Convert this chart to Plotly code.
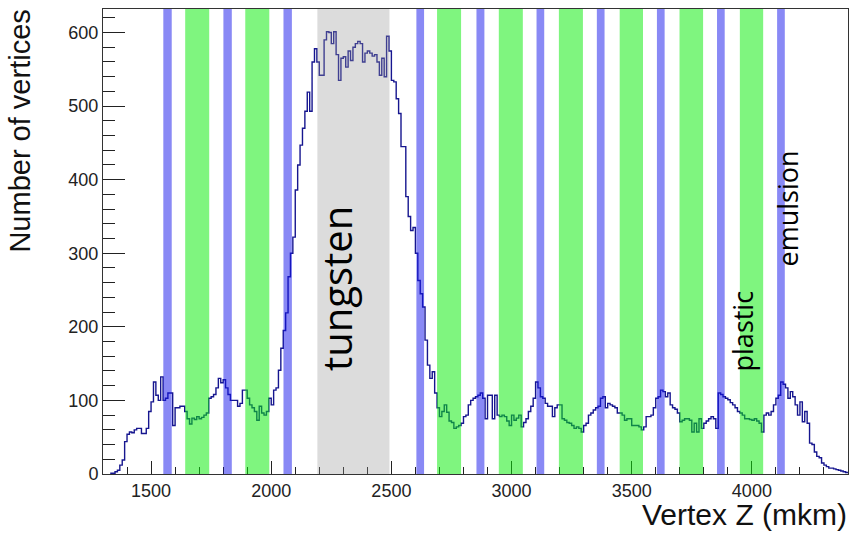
import numpy as np
import plotly.graph_objects as go

# ---------------- data ----------------
bin_start = 1330
bin_width = 10
counts = [
    1, 1, 3, 5, 12, 19, 44, 54, 57, 56,
    60, 62, 62, 55, 55, 62, 85, 98, 125, 107,
    100, 132, 100, 103, 110, 110, 66, 90, 90, 92,
    92, 85, 75, 68, 76, 74, 78, 75, 77, 80,
    83, 103, 105, 108, 117, 130, 124, 128, 117, 108,
    100, 100, 100, 92, 96, 114, 114, 103, 94, 90,
    85, 73, 92, 83, 80, 85, 103, 94, 114, 117,
    141, 171, 195, 219, 268, 300, 322, 386, 420, 447,
    470, 493, 519, 493, 560, 578, 560, 542, 542, 590,
    601, 600, 585, 601, 570, 535, 565, 567, 553, 575,
    562, 580, 585, 588, 585, 560, 572, 575, 572, 568,
    570, 560, 542, 565, 540, 595, 575, 535, 533, 510,
    490, 445, 445, 377, 350, 331, 335, 300, 263, 245,
    227, 182, 148, 130, 139, 110, 90, 78, 85, 94,
    84, 72, 70, 62, 64, 66, 69, 78, 80, 94,
    100, 103, 105, 107, 110, 103, 75, 107, 107, 75,
    107, 80, 78, 80, 78, 72, 66, 80, 73, 76,
    80, 64, 70, 75, 85, 92, 103, 125, 117, 105,
    103, 96, 92, 92, 78, 90, 94, 94, 75, 73,
    70, 69, 66, 62, 64, 62, 57, 66, 69, 80,
    83, 87, 90, 92, 103, 105, 90, 96, 94, 92,
    90, 83, 83, 80, 73, 75, 75, 66, 66, 66,
    64, 60, 64, 78, 78, 80, 90, 103, 105, 114,
    112, 105, 110, 94, 90, 88, 83, 71, 73, 75,
    75, 73, 57, 69, 57, 75, 62, 69, 72, 75,
    78, 75, 62, 110, 108, 105, 103, 101, 97, 94,
    90, 85, 83, 80, 75, 75, 74, 73, 75, 72,
    69, 57, 80, 83, 80, 85, 94, 103, 107, 125,
    122, 117, 103, 112, 105, 94, 80, 98, 71, 85,
    69, 42, 40, 30, 24, 22, 15, 12, 10, 8,
    8, 7, 6, 5, 4, 3, 2,
]

emulsion_layers = [(1551, 1586), (1801, 1836), (2051, 2086), (2604, 2636), (2854, 2887),
                   (3104, 3136), (3355, 3387), (3605, 3637), (3855, 3887), (4105, 4137)]
plastic_layers = [(1642, 1742), (1892, 1992), (2690, 2790), (2947, 3047), (3197, 3297),
                  (3450, 3547), (3699, 3797), (3950, 4047)]
tungsten_layer = (2192, 2492)

x_range = [1300, 4400]
y_range = [0, 632]

x_title = "Vertex Z (mkm)"
y_title = "Number of vertices"

# ---------------- figure ----------------
edges = bin_start + bin_width * np.arange(len(counts) + 1)
yvals = list(counts) + [counts[-1]]

fig = go.Figure()
fig.add_trace(go.Scatter(
    x=edges, y=yvals, mode="lines", line_shape="hv",
    line=dict(color="#16168f", width=1.4), hoverinfo="skip", showlegend=False))

shapes = []
shapes.append(dict(type="rect", xref="x", yref="paper", x0=tungsten_layer[0], x1=tungsten_layer[1],
                   y0=0, y1=1, layer="above", line=dict(width=0),
                   fillcolor="rgba(150,150,150,0.33)"))
for a, b in plastic_layers:
    shapes.append(dict(type="rect", xref="x", yref="paper", x0=a, x1=b, y0=0, y1=1,
                       layer="above", line=dict(width=0), fillcolor="rgba(10,235,10,0.52)"))
for a, b in emulsion_layers:
    shapes.append(dict(type="rect", xref="x", yref="paper", x0=a, x1=b, y0=0, y1=1,
                       layer="above", line=dict(width=0), fillcolor="rgba(20,20,235,0.5)"))

tick_font = dict(family="Liberation Sans, Arial, sans-serif", size=18, color="#222")
label_font = "Open Sans, Noto Sans, sans-serif"

fig.update_layout(
    width=856, height=533,
    margin=dict(l=103, r=8, t=9, b=59),
    paper_bgcolor="white", plot_bgcolor="white",
    shapes=shapes,
    xaxis=dict(range=x_range, showgrid=False, zeroline=False,
               showline=True, linecolor="#333", linewidth=1, mirror=True,
               ticks="inside", ticklen=13, tickcolor="#222", tickwidth=1,
               tickmode="linear", tick0=1500, dtick=500,
               minor=dict(ticks="inside", ticklen=7, dtick=100, tickcolor="#222"),
               tickfont=tick_font),
    yaxis=dict(range=y_range, showgrid=False, zeroline=False,
               showline=True, linecolor="#333", linewidth=1, mirror=True,
               ticks="inside", ticklen=22, tickcolor="#222", tickwidth=1,
               tickmode="linear", tick0=0, dtick=100,
               minor=dict(ticks="inside", ticklen=12, dtick=20, tickcolor="#222"),
               tickfont=tick_font),
    annotations=[
        dict(text=x_title, xref="paper", yref="paper", x=1.0, y=-0.087,
             xanchor="right", yanchor="middle", showarrow=False, borderpad=0,
             font=dict(family="Liberation Sans, Arial, sans-serif", size=30, color="#111")),
        dict(text=y_title, xref="paper", yref="paper", x=-0.112, y=0.7376,
             xanchor="center", yanchor="middle", textangle=-90, showarrow=False,
             font=dict(family="Liberation Sans, Arial, sans-serif", size=29, color="#111")),
        dict(text="tungsten", xref="x", yref="paper", x=2270, y=(474 - 289) / 465,
             xanchor="center", yanchor="middle", textangle=-90, showarrow=False,
             font=dict(family=label_font, size=40, color="black")),
        dict(text="plastic", xref="x", yref="paper", x=3965, y=(474 - 331) / 465,
             xanchor="center", yanchor="middle", textangle=-90, showarrow=False,
             font=dict(family=label_font, size=27, color="black")),
        dict(text="emulsion", xref="x", yref="paper", x=4148, y=(474 - 208) / 465,
             xanchor="center", yanchor="middle", textangle=-90, showarrow=False,
             font=dict(family=label_font, size=27, color="black")),
    ],
)

fig.write_html("out.html")
